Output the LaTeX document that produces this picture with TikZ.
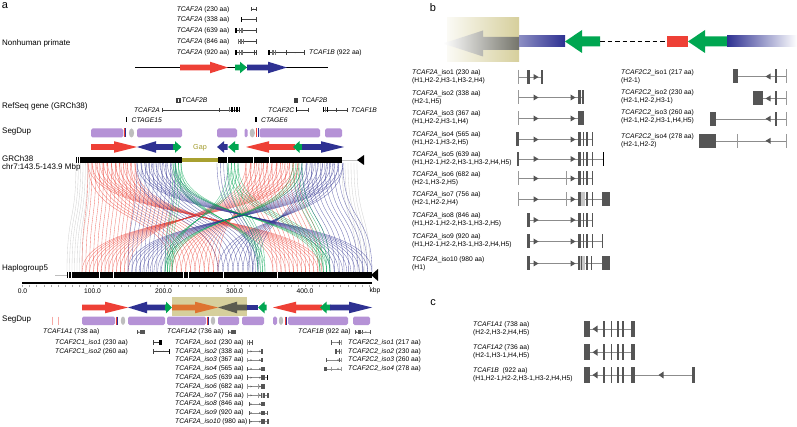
\documentclass[tikz,border=0pt]{standalone}
\usepackage{fontspec}
\setmainfont{Liberation Sans}
\definecolor{sred}{HTML}{EE4036}
\definecolor{sblue}{HTML}{2E3192}
\definecolor{sgreen}{HTML}{00A651}
\definecolor{spurple}{HTML}{B592D6}
\definecolor{sgray}{HTML}{BEBEBE}
\definecolor{solive}{HTML}{A39C2C}
\definecolor{shl}{HTML}{D6CF9C}
\definecolor{sorange}{HTML}{DE7430}
\definecolor{sdark}{HTML}{5C5C50}
\definecolor{exg}{HTML}{555555}
\definecolor{sgapc}{HTML}{A8A030}
% fat arrows: x1 x2 y color headlength headhalfheight
\newcommand\fatR[6]{\fill[#4] (#1,{#3-2.8}) -- ({#2-#5},{#3-2.8}) -- ({#2-#5},{#3-#6}) -- (#2,#3) -- ({#2-#5},{#3+#6}) -- ({#2-#5},{#3+2.8}) -- (#1,{#3+2.8}) -- cycle;}
\newcommand\fatL[6]{\fill[#4] (#2,{#3-2.8}) -- ({#1+#5},{#3-2.8}) -- ({#1+#5},{#3-#6}) -- (#1,#3) -- ({#1+#5},{#3+#6}) -- ({#1+#5},{#3+2.8}) -- (#2,{#3+2.8}) -- cycle;}
% synteny curves
\newcommand\synLines[6]{%
  \foreach \k in {0,...,#6}{%
    \pgfmathsetmacro\synT{#2+(#3-#2)*\k/#6}%
    \pgfmathsetmacro\synB{#4+(#5-#4)*\k/#6}%
    \draw[synl,#1] (\synT,163) .. controls (\synT,224) and (\synB,211) .. (\synB,272);
  }}
% gene parts (local coordinates)
\newcommand\gLn[2]{\draw[gline] (#1,0) -- (#2,0);}
\newcommand\gEx[2]{\fill[exg] (#1,-7) rectangle (#2,7);}
\newcommand\gLt[2]{\fill[black!22] (#1,-7) rectangle (#2,7);}
\newcommand\gTk[1]{\draw[gtick] (#1,-7) -- (#1,7);}
\newcommand\gBar[1]{\fill[exg] ({#1-0.55},-7) rectangle ({#1+0.55},7);}
\newcommand\gBarW[1]{\fill[exg] ({#1-0.8},-7) rectangle ({#1+0.8},7);}
\newcommand\gRt[1]{\fill[exg] ({#1-2.5},-3) -- ({#1+2.5},0) -- ({#1-2.5},3) -- cycle;}
\newcommand\gLtri[1]{\fill[exg] ({#1+2.5},-3) -- ({#1-2.5},0) -- ({#1+2.5},3) -- cycle;}
\newcommand\isoA{\gLn{0}{24}\gTk{0}\gEx{9}{11.5}\gRt{18}\gEx{23}{24.5}}
\newcommand\isoB{\gLn{0}{65}\gTk{0}\gRt{18}\gRt{55}\gEx{60}{63}\gBar{65}}
\newcommand\isoC{\gLn{0}{66}\gTk{0}\gRt{18}\gRt{55}\gEx{60}{66}}
\newcommand\isoD{\gLn{-2}{75}\gEx{-2}{0.5}\gRt{18}\gRt{55}\gEx{60}{63}\gBar{65.5}\gBar{69}\gBar{74.5}}
\newcommand\isoE{\gLn{-1}{86}\gEx{-1}{1}\gRt{18}\gRt{55}\gEx{60}{63}\gBar{65.5}\gBar{69}\gBar{74.5}\fill[black] (84.5,-7) rectangle (86,7);}
\newcommand\isoF{\gLn{0}{75}\gTk{0}\gRt{18}\gTk{48}\gRt{55}\gEx{60}{63}\gBar{65.5}\gBar{69}\gBar{74.5}}
\newcommand\isoG{\gLn{0}{84}\gTk{0}\gRt{18}\gTk{48}\gRt{55}\gLt{62}{67}\gEx{60}{62.5}\gBar{69}\gBar{74.5}\gEx{84}{92}}
\newcommand\isoH{\gLn{9}{75}\gEx{9}{11.5}\gRt{18}\gRt{55}\gEx{60}{63}\gBar{65.5}\gBar{69}\gBar{74.5}}
\newcommand\isoI{\gLn{9}{85}\gEx{9}{11.5}\gRt{18}\gRt{55}\gEx{60}{63}\gBar{65.5}\gBar{69}\gBar{74.5}\gBar{84.5}}
\newcommand\isoJ{\gLn{9}{84}\gEx{9}{11.5}\gRt{18}\gRt{55}\gLt{60}{67}\gEx{60}{62}\gBar{63.5}\gBar{69}\gBar{73.5}\gEx{84}{92}}
\newcommand\ctA{\gLn{38}{87}\gEx{33.5}{38.5}\gLtri{69}\fill[exg] (76.3,-7) rectangle (77.8,7);\gTk{87}}
\newcommand\ctB{\gLn{64}{87}\gEx{54}{64}\gLtri{69}\fill[exg] (76.3,-7) rectangle (77.8,7);\gTk{87}}
\newcommand\ctC{\gLn{17}{87}\gEx{11}{17}\gLtri{69}\fill[exg] (76.3,-7) rectangle (77.8,7);\gTk{87}}
\newcommand\ctD{\gLn{17}{87}\gEx{0}{17}\gTk{38}\gLtri{69}\gTk{87}}
\newcommand\tcA{\gLn{5}{47}\gEx{0}{5.5}\gLtri{11}\gBarW{20}\gBarW{27.5}\gBarW{34}\gBarW{39}\gEx{46.5}{51}}
\newcommand\tcB{\tcA\gLn{51}{111}\gLtri{77}\gEx{108}{111}}
% small gene helpers (panel a)
\newcommand\sEx[4]{\fill[black] (#1,{#3-#4}) rectangle (#2,{#3+#4});}
\newcommand\sTk[2]{\draw[sg] (#1,{#2-2.2}) -- (#1,{#2+2.2});}
\newcommand\sBr[2]{\fill[black!55] ({#1-0.45},{#2-2.5}) rectangle ({#1+0.45},{#2+2.5});}
\newcommand\sDot[2]{\fill[black!75] (#1,#2) circle (0.55);}
\begin{document}
\begin{tikzpicture}[x=1pt,y=-1pt,
  lbl/.style={font=\fontsize{6.7}{8}\selectfont, inner sep=0pt},
  lblb/.style={font=\fontsize{6.7}{8}\selectfont, inner sep=0pt, anchor=west, align=left},
  side/.style={font=\fontsize{8}{9.5}\selectfont, inner sep=0pt, anchor=west},
  panel/.style={font=\fontsize{11}{12}\selectfont, inner sep=0pt},
  gline/.style={draw=black!45, line width=0.5pt},
  gtick/.style={draw=black!40, line width=0.5pt},
  synl/.style={line width=0.35pt, draw opacity=0.68},
  sg/.style={draw=black!75, line width=0.45pt},
  seg/.style={fill=spurple, rounded corners=1.6pt},
  gapw/.style={draw=white, line width=0.5pt},
]
\useasboundingbox (0,0) rectangle (797,427);
\fill[white] (0,0) rectangle (797,427);

% panel letters
\node[panel] (pa) at (5,6) {a};
\node[panel] (pb) at (433,7.5) {b};
\node[panel] (pc) at (433,303) {c};

% ---------- Nonhuman primate ----------
\node[side] (nhp) at (2,43) {Nonhuman primate};
\node[lbl, anchor=east] (n1) at (229.5,9.3) {\textit{TCAF2A} (230 aa)};
\node[lbl, anchor=east] (n2) at (229.5,19.5) {\textit{TCAF2A} (338 aa)};
\node[lbl, anchor=east] (n3) at (229.5,30.7) {\textit{TCAF2A} (639 aa)};
\node[lbl, anchor=east] (n4) at (229.5,41.7) {\textit{TCAF2A} (846 aa)};
\node[lbl, anchor=east] (n5) at (229.5,52.7) {\textit{TCAF2A} (920 aa)};
\node[lbl, anchor=west] (n6) at (309,52.7) {\textit{TCAF1B} (922 aa)};
\draw[sg] (251,9.3)--(256,9.3); \sTk{251}{9.3}\sTk{256}{9.3}\sDot{253.5}{9.3}
\draw[sg] (241,19.5)--(256,19.5); \sEx{240.5}{241.8}{19.5}{2.5}\sDot{253}{19.5}\sTk{256}{19.5}
\draw[sg] (235,30.7)--(256,30.7); \sEx{235}{237}{30.7}{2.6}\sBr{239.5}{30.7}\sBr{241}{30.7}\sBr{242.5}{30.7}\sDot{253}{30.7}\sTk{256}{30.7}
\draw[sg] (238.5,41.7)--(256,41.7); \sBr{238.5}{41.7}\sBr{240}{41.7}\sBr{241.5}{41.7}\sBr{243}{41.7}\sDot{254}{41.7}\sTk{256}{41.7}
\draw[sg] (235,52.7)--(256,52.7); \sEx{235}{237}{52.7}{2.6}\sBr{239.5}{52.7}\sBr{241}{52.7}\sBr{242.5}{52.7}\sTk{254.5}{52.7}\sTk{256}{52.7}
\draw[sg] (268,52.7)--(304,52.7); \sEx{268}{269.6}{52.7}{2.6}\sBr{272}{52.7}\sBr{273.5}{52.7}\sBr{275}{52.7}\sTk{286}{52.7}\sDot{295}{52.7}\sTk{304}{52.7}
\draw[line width=1.1pt] (135,67.5) -- (328,67.5);
\fatR{180}{228}{67.5}{sred}{18}{5.8}
\fatR{235}{247}{67.5}{sgreen}{7}{5.8}
\fatR{247}{287}{67.5}{sblue}{19}{5.8}

% ---------- RefSeq genes ----------
\node[side] (rsq) at (2,106.7) {RefSeq gene (GRCh38)};
\draw[sg] (176.5,98) rectangle (180,102.5); \draw[sg] (177.7,98)--(177.7,102.5); \draw[sg] (178.9,98)--(178.9,102.5);
\node[lbl, anchor=west] (t2b1) at (181.5,100) {\textit{TCAF2B}};
\draw[sg] (294,98) rectangle (297.5,102.5); \draw[sg] (295.2,98)--(295.2,102.5); \draw[sg] (296.4,98)--(296.4,102.5);
\node[lbl, anchor=west] (t2b2) at (301.5,100) {\textit{TCAF2B}};
\node[lbl, anchor=east] (t2a) at (160,110) {\textit{TCAF2A}};
\draw[sg] (162,110) -- (240,110); \sTk{162}{110}\sTk{219.3}{110}
\sBr{229.5}{110}\sEx{231.2}{232.6}{110}{2.5}\sEx{233.8}{235.2}{110}{2.5}\sEx{236.3}{237.7}{110}{2.5}\sEx{238.7}{240.1}{110}{2.5}
\node[lbl, anchor=east] (t2c) at (294.5,110) {\textit{TCAF2C}};
\draw[sg] (296,110) -- (308.5,110); \sEx{295.8}{297}{110}{2.5}\sTk{308.5}{110}
\draw[sg] (323,110) -- (347,110); \sEx{323}{324.4}{110}{2.5}\sBr{325.8}{110}\sEx{326.8}{328.4}{110}{2.5}\sTk{336.7}{110}\sTk{347}{110}
\node[lbl, anchor=west] (t1b) at (351,110) {\textit{TCAF1B}};
\sEx{126}{127.4}{119.5}{2.6}
\node[lbl, anchor=west] (ct15) at (131.5,120) {\textit{CTAGE15}};
\sEx{255.2}{256.6}{119.5}{2.6}
\node[lbl, anchor=west] (ct6) at (261,120) {\textit{CTAGE6}};

% ---------- SegDup top ----------
\node[side] (sd1) at (2,132) {SegDup};
\fill[seg] (91,128.5) rectangle (123.3,137.5);
\draw[sred, line width=0.7pt] (124.2,128.5) -- (124.2,137.5);
\draw[sblue, line width=0.7pt] (125.7,128.5) -- (125.7,137.5);
\fill[sgray] (131.5,133) ellipse (2.6 and 4.5);
\fill[seg] (137,128.5) rectangle (182,137.5);
\fill[seg] (217,128.5) rectangle (237,137.5);
\fill[seg] (244.5,128.5) rectangle (247.5,137.5);
\fill[sgray] (252.3,133) ellipse (2.6 and 4.5);
\draw[sred, line width=0.7pt] (256.8,128.5) -- (256.8,137.5);
\draw[sblue, line width=0.7pt] (258.3,128.5) -- (258.3,137.5);
\fill[seg] (259.5,128.5) rectangle (320,137.5);
\fill[seg] (325,128.5) rectangle (342,137.5);

% ---------- arrows top ----------
\fatR{91}{137}{147}{sred}{23}{5.8}
\fatL{137}{175}{147}{sblue}{19}{5.8}
\fatR{173}{181.5}{147}{sgreen}{6.5}{5.8}
\node[lbl, text=solive, font=\fontsize{7.2}{8}\selectfont] (gap) at (200,148) {Gap};
\fatL{217}{227.5}{147}{sblue}{7}{5.8}
\fatL{228}{238.5}{147}{sgreen}{7}{5.8}
\fatL{246}{295}{147}{sred}{23}{5.8}
\fatL{293}{302.5}{147}{sgreen}{6.5}{5.8}
\fatR{302}{344}{147}{sblue}{23}{5.8}

\node[side] (g38) at (2,158.5) {GRCh38};
\node[side] (chr) at (2,167) {chr7:143.5-143.9 Mbp};

% ---------- synteny lines ----------
\synLines{sgray}{76}{90}{67}{82}{6}
\synLines{sgray}{342}{357}{357}{370}{5}
\synLines{sred}{88}{135}{82}{128}{12}
\synLines{sred}{88}{135}{172}{218}{10}
\synLines{sred}{88}{135}{322}{273}{12}
\synLines{sred}{246}{298}{128}{82}{12}
\synLines{sred}{246}{298}{218}{172}{10}
\synLines{sred}{246}{298}{273}{322}{12}
\synLines{sblue}{137}{175}{128}{165}{9}
\synLines{sblue}{137}{175}{218}{258}{8}
\synLines{sblue}{137}{175}{372}{330}{10}
\synLines{sblue}{302}{343}{165}{128}{10}
\synLines{sblue}{302}{343}{258}{218}{8}
\synLines{sblue}{302}{343}{330}{372}{9}
\synLines{sblue}{217}{227}{250}{258}{3}
\synLines{sgreen}{173}{181}{165}{172}{3}
\synLines{sgreen}{173}{181}{265}{258}{3}
\synLines{sgreen}{173}{181}{330}{320}{3}
\synLines{sgreen}{228}{238}{172}{165}{3}
\synLines{sgreen}{228}{238}{258}{265}{3}
\synLines{sgreen}{228}{238}{320}{330}{3}
\synLines{sgreen}{293}{302}{172}{165}{3}
\synLines{sgreen}{293}{302}{320}{330}{3}

% ---------- GRCh38 bar ----------
\fill[black] (76,157) rectangle (182,163);
\fill[sgapc] (182,158.2) rectangle (218,161.8);
\fill[black] (218,157) rectangle (342,163);
\draw[gapw] (77.4,157)--(77.4,163); \draw[gapw] (79.6,157)--(79.6,163);
\draw[gapw] (227,157)--(227,163); \draw[gapw] (253.5,157)--(253.5,163); \draw[gapw] (269,157)--(269,163);
\draw[sgray, line width=0.5pt] (342,160) -- (358,160);
\fill[black] (364,155) -- (357,160) -- (364,165) -- cycle;

% ---------- Haplogroup5 bar ----------
\node[side] (hg5) at (2,268) {Haplogroup5};
\draw[sgray, line width=0.5pt] (55,275) -- (67,275);
\fill[black] (67,272) rectangle (372,278);
\foreach \w in {68.6,71,98.8,113,183,188.5,223,277}{\draw[gapw] (\w,272)--(\w,278);}
\fill[black] (378,269) -- (371,275) -- (378,281) -- cycle;

% ---------- axis ----------
\draw[line width=2.2pt] (22,283) -- (372,283);
\foreach \t in {0,...,49}{\draw[black!35, line width=0.4pt] ({22.5+\t*7.07},284.6) -- ({22.5+\t*7.07},287);}
\node[lbl] (k0) at (22.5,291) {0.0};
\node[lbl] (k1) at (92.5,291) {100.0};
\node[lbl] (k2) at (163.5,291) {200.0};
\node[lbl] (k3) at (234.5,291) {300.0};
\node[lbl] (k4) at (305,291) {400.0};
\node[lbl] (kbp) at (375,291) {kbp};

% ---------- bottom arrows ----------
\fill[shl] (172,297) rectangle (247,316);
\fatR{82}{128}{307.5}{sred}{23}{5.8}
\fatL{128}{166}{307.5}{sblue}{19}{5.8}
\fatR{165}{172}{307.5}{sgreen}{6}{5.8}
\fatR{172}{218}{307.5}{sorange}{23}{5.8}
\fatL{218}{247}{307.5}{sdark}{19}{5.8}
\fill[sblue] (247,304.7) rectangle (258,310.3);
\fatL{258}{266.5}{307.5}{sgreen}{6.5}{5.8}
\fatL{273}{322}{307.5}{sred}{23}{5.8}
\fatL{320}{330.5}{307.5}{sgreen}{6.5}{5.8}
\fatR{330}{372}{307.5}{sblue}{23}{5.8}

% ---------- SegDup bottom ----------
\node[side] (sd2) at (2,320) {SegDup};
\draw[sred!45, line width=0.6pt] (52,316.5) -- (52,325);
\draw[sred!45, line width=0.6pt] (58,316.5) -- (58,325);
\fill[seg] (82,316.5) rectangle (115,325);
\draw[sred, line width=0.7pt] (116,316.5) -- (116,325);
\draw[sblue, line width=0.7pt] (117.5,316.5) -- (117.5,325);
\fill[sgray] (123,320.7) ellipse (2.2 and 4.2);
\fill[seg] (128,316.5) rectangle (165,325);
\fill[seg] (167,316.5) rectangle (206,325);
\draw[sred, line width=0.7pt] (207,316.5) -- (207,325);
\draw[sblue, line width=0.7pt] (208.5,316.5) -- (208.5,325);
\fill[sgray] (213,320.7) ellipse (2.2 and 4.2);
\fill[seg] (218,316.5) rectangle (239,325);
\fill[seg] (242,316.5) rectangle (264,325);
\fill[seg] (273,316.5) rectangle (277,325);
\fill[sgray] (281,320.7) ellipse (2.2 and 4.2);
\draw[sred, line width=0.7pt] (285,316.5) -- (285,325);
\draw[sblue, line width=0.7pt] (286.5,316.5) -- (286.5,325);
\fill[seg] (288,316.5) rectangle (348,325);
\fill[seg] (353,316.5) rectangle (370,325);

% ---------- bottom gene models (panel a) ----------
\node[lbl, anchor=west] (a1a1) at (43,332) {\textit{TCAF1A1} (738 aa)};
\node[lbl, anchor=west] (a1a2) at (167,332) {\textit{TCAF1A2} (736 aa)};
\node[lbl, anchor=west] (a1b) at (298,332) {\textit{TCAF1B} (922 aa)};
\begin{scope}[shift={(137,332)}, xscale=0.157, yscale=0.33]\tcA\end{scope}
\begin{scope}[shift={(228,332)}, xscale=0.157, yscale=0.33]\tcA\end{scope}
\begin{scope}[shift={(355,332)}, xscale=0.14, yscale=0.33]\tcB\end{scope}
\node[lbl, anchor=west] (c1i1) at (55,342.5) {\textit{TCAF2C1\_iso1} (230 aa)};
\node[lbl, anchor=west] (c1i2) at (55,351.3) {\textit{TCAF2C1\_iso2} (260 aa)};
\draw[sg] (153,342.5)--(161,342.5); \sTk{153}{342.5}\sEx{159.3}{161.5}{342.5}{2.6}
\draw[sg] (153,351.3)--(170,351.3); \sTk{153}{351.3}\sDot{156.7}{351.3}\sDot{163.3}{351.3}\sEx{168.5}{170}{351.3}{2.6}
\foreach \n/\aa/\yy/\m in {1/230/342.5/isoA, 2/338/351.3/isoB, 3/367/360.1/isoC, 4/565/368.9/isoD, 5/639/377.7/isoE, 6/682/386.5/isoF, 7/756/395.3/isoG, 8/846/404.1/isoH, 9/920/412.9/isoI, 10/980/421.7/isoJ}{
  \node[lbl, anchor=west] (ai\n) at (175,\yy) {\textit{TCAF2A\_iso\n} (\aa\ aa)};
  \begin{scope}[shift={(247,\yy)}, xscale=0.235, yscale=0.33]\csname\m\endcsname\end{scope}
}
\foreach \n/\aa/\yy/\m in {1/217/342.5/ctA, 2/230/351.3/ctB, 3/260/360.1/ctC, 4/278/368.9/ctD}{
  \node[lbl, anchor=west] (ac\n) at (348,\yy) {\textit{TCAF2C2\_iso\n} (\aa\ aa)};
  \begin{scope}[shift={(324,\yy)}, xscale=0.2, yscale=0.33]\csname\m\endcsname\end{scope}
}

% ---------- panel b schematic ----------
\shade[left color=shl!10, right color=shl] (447,18) rectangle (519,62);
\shade[left color=white, right color=sdark!85] (443,43.5) -- (483,30.5) -- (483,37) -- (519,37) -- (519,50) -- (483,50) -- (483,56.5) -- cycle;
\shade[left color=sblue!55, right color=sblue] (519,36) rectangle (565,47);
\fill[sgreen] (565,41.5) -- (582,30) -- (582,36.5) -- (600,36.5) -- (600,46.5) -- (582,46.5) -- (582,53) -- cycle;
\draw[line width=1.2pt, dash pattern=on 4.5pt off 3pt] (600,41.5) -- (667,41.5);
\fill[sred] (667,36) rectangle (688,47);
\fill[sgreen] (688,41.5) -- (705,30) -- (705,36.5) -- (727,36.5) -- (727,46.5) -- (705,46.5) -- (705,53) -- cycle;
\shade[left color=sblue, right color=white] (727,36) rectangle (797,47);

% ---------- panel b isoforms ----------
\node[lblb] (bi1) at (412,77) {\textit{TCAF2A}\_iso1 (230 aa)\\(H1,H2-2,H3-1,H3-2,H4)};
\node[lblb] (bi2) at (412,97.5) {\textit{TCAF2A}\_iso2 (338 aa)\\(H2-1,H5)};
\node[lblb] (bi3) at (412,118) {\textit{TCAF2A}\_iso3 (367 aa)\\(H1,H2-2,H3-1,H4)};
\node[lblb] (bi4) at (412,138.5) {\textit{TCAF2A}\_iso4 (565 aa)\\(H1,H2-1,H3-2,H5)};
\node[lblb] (bi5) at (412,158.5) {\textit{TCAF2A}\_iso5 (639 aa)\\(H1,H2-1,H2-2,H3-1,H3-2,H4,H5)};
\node[lblb] (bi6) at (412,179) {\textit{TCAF2A}\_iso6 (682 aa)\\(H2-1,H3-2,H5)};
\node[lblb] (bi7) at (412,199) {\textit{TCAF2A}\_iso7 (756 aa)\\(H2-1,H2-2,H4)};
\node[lblb] (bi8) at (412,219.5) {\textit{TCAF2A}\_iso8 (846 aa)\\(H1,H2-1,H2-2,H3-1,H3-2,H5)};
\node[lblb] (bi9) at (412,241) {\textit{TCAF2A}\_iso9 (920 aa)\\(H1,H2-1,H2-2,H3-1,H3-2,H4,H5)};
\node[lblb] (bi10) at (412,264) {\textit{TCAF2A}\_iso10 (980 aa)\\(H1)};
\foreach \yy/\m in {77/isoA, 97.5/isoB, 118.5/isoC, 139.5/isoD, 159/isoE, 178.5/isoF, 199.3/isoG, 220/isoH, 241.5/isoI, 263.5/isoJ}{
  \begin{scope}[shift={(518,\yy)}]\csname\m\endcsname\end{scope}
}
\node[lblb] (bc1) at (621,76.5) {\textit{TCAF2C2}\_iso1 (217 aa)\\(H2-1)};
\node[lblb] (bc2) at (621,97) {\textit{TCAF2C2}\_iso2 (230 aa)\\(H2-1,H2-2,H3-1)};
\node[lblb] (bc3) at (621,117) {\textit{TCAF2C2}\_iso3 (260 aa)\\(H2-1,H2-2,H3-1,H4,H5)};
\node[lblb] (bc4) at (621,140.3) {\textit{TCAF2C2}\_iso4 (278 aa)\\(H2-1,H2-2)};
\foreach \yy/\m in {76.5/ctA, 98.5/ctB, 118.8/ctC, 140.8/ctD}{
  \begin{scope}[shift={(699,\yy)}]\csname\m\endcsname\end{scope}
}

% ---------- panel c ----------
\node[lblb] (c1) at (473,328.5) {\textit{TCAF1A1} (738 aa)\\(H2-2,H3-2,H4,H5)};
\node[lblb] (c2) at (473,351.5) {\textit{TCAF1A2} (736 aa)\\(H2-1,H3-1,H4,H5)};
\node[lblb] (c3) at (473,375) {\textit{TCAF1B}\ \ (922 aa)\\(H1,H2-1,H2-2,H3-1,H3-2,H4,H5)};
\begin{scope}[shift={(584,329)}, yscale=1.15]\tcA\end{scope}
\begin{scope}[shift={(584,352.3)}, yscale=1.15]\tcA\end{scope}
\begin{scope}[shift={(584,375)}, yscale=1.15]\tcB\end{scope}
\end{tikzpicture}
\end{document}
